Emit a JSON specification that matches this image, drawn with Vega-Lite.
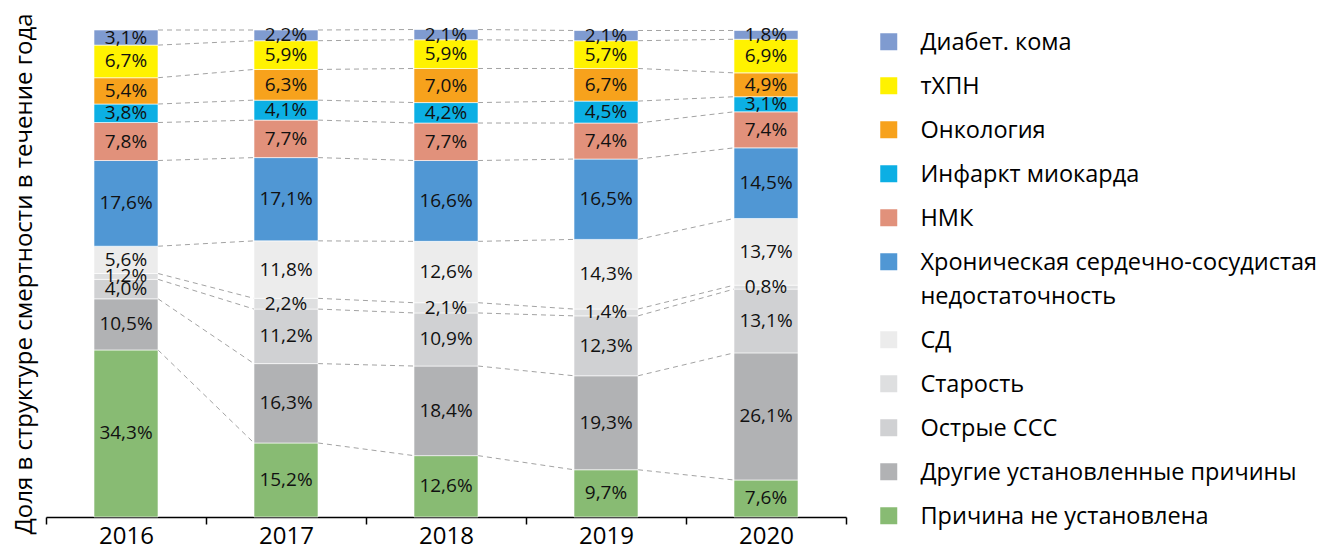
{
  "$schema": "https://vega.github.io/schema/vega-lite/v6.json",
  "width": 800,
  "height": 487,
  "autosize": {"type": "none"},
  "padding": {"left": 46, "top": 30, "right": 481, "bottom": 32},
  "background": "#ffffff",
  "config": {
    "view": {"stroke": null},
    "font": "Open Sans",
    "locale": {"number": {"decimal": ",", "thousands": " ", "grouping": [3], "currency": ["", ""]}},
    "legend": {
      "offset": 31,
      "padding": 0,
      "symbolType": "square",
      "symbolSize": 289,
      "symbolStrokeWidth": 0,
      "labelFontSize": 23.5,
      "labelColor": "#000000",
      "labelFont": "Open Sans",
      "labelOffset": 20,
      "labelLimit": 600,
      "labelBaseline": "alphabetic",
      "rowPadding": 19
    }
  },
  "data": {
    "values": [
      {"year": "2016", "cause": "Причина не установлена", "k": 1, "v": 0.343},
      {"year": "2016", "cause": "Другие установленные причины", "k": 2, "v": 0.105},
      {"year": "2016", "cause": "Острые ССС", "k": 3, "v": 0.040},
      {"year": "2016", "cause": "Старость", "k": 4, "v": 0.012},
      {"year": "2016", "cause": "СД", "k": 5, "v": 0.056},
      {"year": "2016", "cause": "Хроническая сердечно-сосудистая недостаточность", "k": 6, "v": 0.176},
      {"year": "2016", "cause": "НМК", "k": 7, "v": 0.078},
      {"year": "2016", "cause": "Инфаркт миокарда", "k": 8, "v": 0.038},
      {"year": "2016", "cause": "Онкология", "k": 9, "v": 0.054},
      {"year": "2016", "cause": "тХПН", "k": 10, "v": 0.067},
      {"year": "2016", "cause": "Диабет. кома", "k": 11, "v": 0.031},

      {"year": "2017", "cause": "Причина не установлена", "k": 1, "v": 0.152},
      {"year": "2017", "cause": "Другие установленные причины", "k": 2, "v": 0.163},
      {"year": "2017", "cause": "Острые ССС", "k": 3, "v": 0.112},
      {"year": "2017", "cause": "Старость", "k": 4, "v": 0.022},
      {"year": "2017", "cause": "СД", "k": 5, "v": 0.118},
      {"year": "2017", "cause": "Хроническая сердечно-сосудистая недостаточность", "k": 6, "v": 0.171},
      {"year": "2017", "cause": "НМК", "k": 7, "v": 0.077},
      {"year": "2017", "cause": "Инфаркт миокарда", "k": 8, "v": 0.041},
      {"year": "2017", "cause": "Онкология", "k": 9, "v": 0.063},
      {"year": "2017", "cause": "тХПН", "k": 10, "v": 0.059},
      {"year": "2017", "cause": "Диабет. кома", "k": 11, "v": 0.022},

      {"year": "2018", "cause": "Причина не установлена", "k": 1, "v": 0.126},
      {"year": "2018", "cause": "Другие установленные причины", "k": 2, "v": 0.184},
      {"year": "2018", "cause": "Острые ССС", "k": 3, "v": 0.109},
      {"year": "2018", "cause": "Старость", "k": 4, "v": 0.021},
      {"year": "2018", "cause": "СД", "k": 5, "v": 0.126},
      {"year": "2018", "cause": "Хроническая сердечно-сосудистая недостаточность", "k": 6, "v": 0.166},
      {"year": "2018", "cause": "НМК", "k": 7, "v": 0.077},
      {"year": "2018", "cause": "Инфаркт миокарда", "k": 8, "v": 0.042},
      {"year": "2018", "cause": "Онкология", "k": 9, "v": 0.070},
      {"year": "2018", "cause": "тХПН", "k": 10, "v": 0.059},
      {"year": "2018", "cause": "Диабет. кома", "k": 11, "v": 0.021},

      {"year": "2019", "cause": "Причина не установлена", "k": 1, "v": 0.097},
      {"year": "2019", "cause": "Другие установленные причины", "k": 2, "v": 0.193},
      {"year": "2019", "cause": "Острые ССС", "k": 3, "v": 0.123},
      {"year": "2019", "cause": "Старость", "k": 4, "v": 0.014},
      {"year": "2019", "cause": "СД", "k": 5, "v": 0.143},
      {"year": "2019", "cause": "Хроническая сердечно-сосудистая недостаточность", "k": 6, "v": 0.165},
      {"year": "2019", "cause": "НМК", "k": 7, "v": 0.074},
      {"year": "2019", "cause": "Инфаркт миокарда", "k": 8, "v": 0.045},
      {"year": "2019", "cause": "Онкология", "k": 9, "v": 0.067},
      {"year": "2019", "cause": "тХПН", "k": 10, "v": 0.057},
      {"year": "2019", "cause": "Диабет. кома", "k": 11, "v": 0.021},

      {"year": "2020", "cause": "Причина не установлена", "k": 1, "v": 0.076},
      {"year": "2020", "cause": "Другие установленные причины", "k": 2, "v": 0.261},
      {"year": "2020", "cause": "Острые ССС", "k": 3, "v": 0.131},
      {"year": "2020", "cause": "Старость", "k": 4, "v": 0.008},
      {"year": "2020", "cause": "СД", "k": 5, "v": 0.137},
      {"year": "2020", "cause": "Хроническая сердечно-сосудистая недостаточность", "k": 6, "v": 0.145},
      {"year": "2020", "cause": "НМК", "k": 7, "v": 0.074},
      {"year": "2020", "cause": "Инфаркт миокарда", "k": 8, "v": 0.031},
      {"year": "2020", "cause": "Онкология", "k": 9, "v": 0.049},
      {"year": "2020", "cause": "тХПН", "k": 10, "v": 0.069},
      {"year": "2020", "cause": "Диабет. кома", "k": 11, "v": 0.018}
    ]
  },
  "layer": [
    {
      "transform": [
        {"stack": "v", "groupby": ["year"], "sort": [{"field": "k", "order": "ascending"}], "as": ["s0", "s1"]},
        {"window": [{"op": "lead", "field": "s1", "as": "ns1"}, {"op": "lead", "field": "year", "as": "nyear"}], "groupby": ["cause"], "sort": [{"field": "year", "order": "ascending"}]},
        {"filter": "datum.nyear != null"}
      ],
      "mark": {"type": "rule", "color": "#a3a3a3", "strokeWidth": 1, "strokeDash": [5, 4]},
      "encoding": {
        "x": {"field": "year", "type": "ordinal", "bandPosition": 0.7},
        "x2": {"field": "nyear", "bandPosition": 0.3},
        "y": {"field": "s1", "type": "quantitative"},
        "y2": {"field": "ns1"}
      }
    },
    {
      "mark": {"type": "bar", "stroke": "#ffffff", "strokeWidth": 0.6, "width": {"band": 0.4}},
      "encoding": {
        "x": {
          "field": "year", "type": "ordinal",
          "scale": {"paddingInner": 0, "paddingOuter": 0},
          "axis": {
            "title": null, "labelAngle": 0, "labelAlign": "center", "labelBaseline": "top",
            "labelFontSize": 24, "labelColor": "#000000",
            "labelFont": "Open Sans", "domainColor": "#000000", "domainWidth": 1.5,
            "tickColor": "#000000", "tickWidth": 1.5, "tickSize": 7, "tickBand": "extent",
            "bandPosition": 0.5, "labelPadding": 0
          }
        },
        "y": {
          "field": "v", "type": "quantitative", "stack": "zero",
          "scale": {"domain": [0, 1], "nice": false},
          "axis": {
            "title": "Доля в структуре смертности в течение года",
            "labels": false, "ticks": false, "domain": false, "grid": false,
            "titleFontSize": 24, "titleFontWeight": "normal", "titleColor": "#000000",
            "titleFont": "Open Sans", "titlePadding": 10
          }
        },
        "order": {"field": "k", "type": "quantitative", "sort": "ascending"},
        "color": {
          "field": "cause", "type": "nominal",
          "scale": {
            "domain": ["Диабет. кома", "тХПН", "Онкология", "Инфаркт миокарда", "НМК", "Хроническая сердечно-сосудистая недостаточность", "СД", "Старость", "Острые ССС", "Другие установленные причины", "Причина не установлена"],
            "range": ["#7f9bd0", "#fff200", "#f7a21c", "#0cafe4", "#e1917b", "#5097d4", "#ececec", "#dedfe0", "#d0d1d3", "#b1b2b4", "#88bb73"]
          },
          "legend": {
            "title": null,
            "labelExpr": "datum.label == 'Хроническая сердечно-сосудистая недостаточность' ? ['Хроническая сердечно-сосудистая', 'недостаточность'] : datum.label",
            "encoding": {"labels": {"lineHeight": {"value": 34}, "dy": {"value": 8}}}
          }
        }
      }
    },
    {
      "mark": {"type": "text", "fontSize": 19, "color": "#111111", "font": "Open Sans"},
      "encoding": {
        "x": {"field": "year", "type": "ordinal"},
        "y": {"field": "v", "type": "quantitative", "stack": "zero", "bandPosition": 0.5},
        "detail": {"field": "cause"},
        "order": {"field": "k", "type": "quantitative", "sort": "ascending"},
        "text": {"field": "v", "type": "quantitative", "format": ".1%"}
      }
    }
  ]
}
